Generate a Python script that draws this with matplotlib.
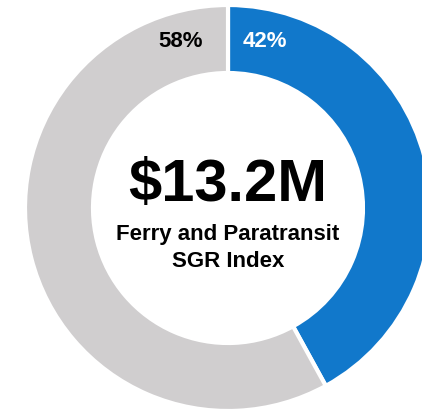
import matplotlib
matplotlib.use("Agg")
import matplotlib.pyplot as plt

# Data
segments = ["Ferry and Paratransit SGR", "Remaining"]
shares = [42, 58]
seg_colors = ["#1178CB", "#D0CECF"]
label_colors = ["white", "black"]
total_label = "$13.2M"
subtitle = "Ferry and Paratransit\nSGR Index"

plt.rcParams["font.family"] = ["Liberation Sans", "DejaVu Sans"]

fig = plt.figure(figsize=(4.22, 4.12), dpi=100)
ax = fig.add_axes([0, 0, 1, 1])

cx, cy = 228, 204
outer_r = 203
ring_w = 68

ax.pie(
    shares,
    colors=seg_colors,
    startangle=90,
    counterclock=False,
    center=(cx, cy),
    radius=outer_r,
    wedgeprops=dict(width=ring_w, edgecolor="white", linewidth=3),
    frame=True,
)
ax.set_xlim(0, 422)
ax.set_ylim(0, 412)
ax.set_aspect("equal")
ax.axis("off")

# Percentage labels near the top of each segment
label_offsets = [(37, 167), (-47, 167)]
for share, col, (dx, dy) in zip(shares, label_colors, label_offsets):
    ax.text(cx + dx, cy + dy, f"{share}%", color=col, fontsize=16,
            fontweight="bold", ha="center", va="center")

ax.text(cx, cy + 7, total_label, fontsize=43, fontweight="bold",
        ha="center", va="baseline")
ax.text(cx, cy - 40, subtitle, fontsize=16, fontweight="bold",
        ha="center", va="center", linespacing=1.42)

fig.savefig("out.png", dpi=100)
